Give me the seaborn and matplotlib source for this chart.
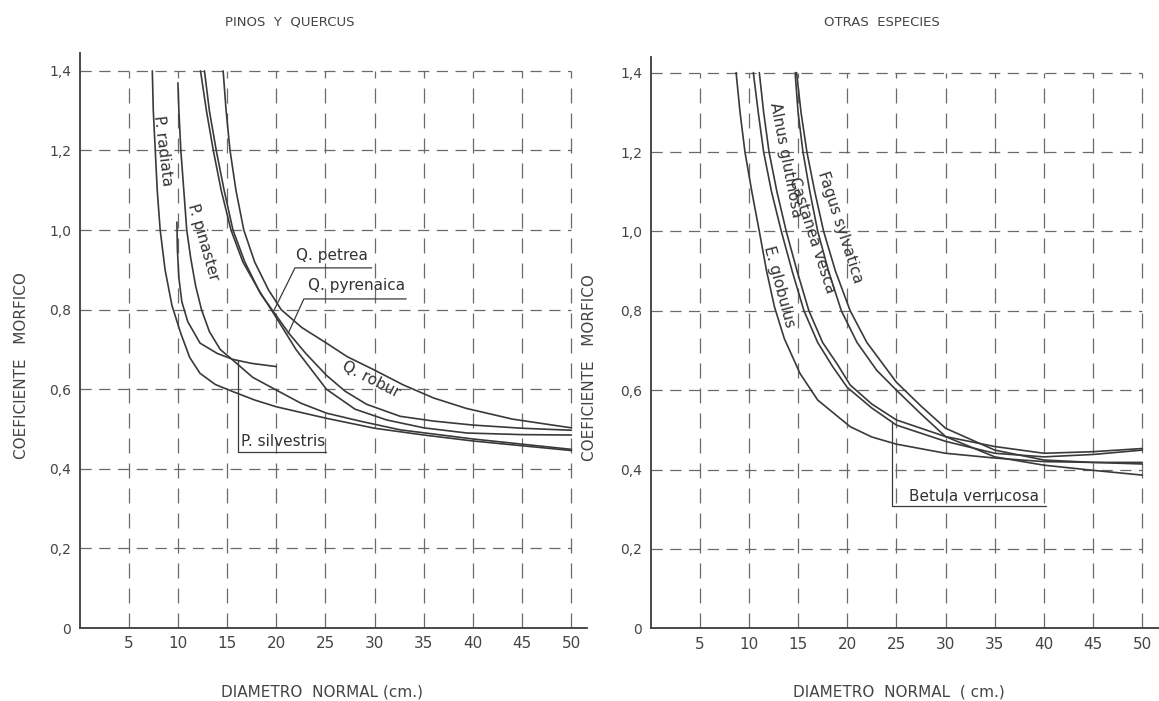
import matplotlib
matplotlib.use("Agg")
import matplotlib.pyplot as plt
import pandas as pd
import seaborn as sns

# ---- datos (diametro normal cm, coeficiente morfico) ----
# Pinos y Quercus
radiata_d = [7.4, 7.5, 7.7, 7.9, 8.2, 8.7, 9.4, 10.3, 11.2, 12.25, 13.8, 15.6, 17.8, 20.0, 25.1, 30.0, 35.0, 40.0, 45.0, 50.0]
radiata_v = [1.40, 1.30, 1.20, 1.10, 1.00, 0.90, 0.81, 0.74, 0.68, 0.64, 0.612, 0.594, 0.573, 0.556, 0.527, 0.502, 0.485, 0.47, 0.458, 0.446]
pinaster_d = [10.0, 10.1, 10.3, 10.6, 10.9, 11.3, 11.8, 12.4, 13.2, 14.3, 15.6, 17.6, 20.0, 22.5, 25.1, 28.5, 32.6, 40.0, 45.0, 50.0]
pinaster_v = [1.37, 1.30, 1.20, 1.10, 1.00, 0.93, 0.86, 0.80, 0.745, 0.70, 0.673, 0.63, 0.598, 0.565, 0.54, 0.52, 0.498, 0.475, 0.462, 0.449]
silvestris_d = [9.9, 9.95, 10.1, 10.4, 11.0, 12.25, 14.0, 15.6, 17.5, 20.0]
silvestris_v = [1.02, 0.95, 0.88, 0.82, 0.77, 0.716, 0.69, 0.675, 0.665, 0.657]
petrea_d = [12.3, 12.9, 13.6, 14.4, 15.4, 16.6, 18.2, 20.0, 22.0, 25.1, 28.0, 31.2, 35.0, 39.4, 45.0, 50.0]
petrea_v = [1.40, 1.30, 1.20, 1.10, 1.00, 0.92, 0.85, 0.78, 0.70, 0.60, 0.55, 0.523, 0.503, 0.49, 0.486, 0.485]
pyrenaica_d = [12.7, 13.2, 13.9, 14.7, 15.6, 16.8, 18.4, 20.0, 21.3, 23.0, 25.1, 27.0, 29.2, 32.6, 36.0, 40.0, 45.0, 50.0]
pyrenaica_v = [1.40, 1.30, 1.20, 1.10, 1.00, 0.92, 0.84, 0.785, 0.74, 0.69, 0.635, 0.595, 0.562, 0.532, 0.52, 0.51, 0.502, 0.497]
robur_d = [14.6, 14.9, 15.3, 15.9, 16.7, 17.8, 19.2, 20.5, 22.6, 25.1, 27.2, 30.0, 32.9, 36.0, 39.3, 44.0, 50.0]
robur_v = [1.40, 1.30, 1.20, 1.10, 1.00, 0.92, 0.85, 0.80, 0.755, 0.716, 0.682, 0.648, 0.611, 0.578, 0.552, 0.525, 0.503]

# Otras especies
globulus_d = [8.7, 9.1, 9.6, 10.3, 11.06, 11.8, 12.6, 13.6, 15.2, 17.0, 20.3, 22.5, 25.0, 30.0, 35.0, 40.0, 45.0, 50.0]
globulus_v = [1.40, 1.30, 1.20, 1.10, 1.00, 0.90, 0.81, 0.73, 0.642, 0.575, 0.508, 0.482, 0.464, 0.441, 0.429, 0.42, 0.418, 0.418]
betula_d = [10.45, 10.95, 11.5, 12.3, 13.3, 14.4, 15.6, 17.0, 18.5, 20.0, 22.5, 25.0, 30.0, 35.0, 40.0, 45.0, 50.0]
betula_v = [1.40, 1.30, 1.20, 1.10, 1.00, 0.90, 0.80, 0.72, 0.66, 0.607, 0.555, 0.512, 0.471, 0.441, 0.432, 0.438, 0.449]
alnus_d = [11.06, 11.5, 12.05, 12.85, 13.8, 14.9, 16.1, 17.5, 19.0, 20.3, 22.5, 25.0, 30.0, 35.0, 40.0, 45.0, 50.0]
alnus_v = [1.40, 1.30, 1.20, 1.10, 1.00, 0.90, 0.80, 0.72, 0.665, 0.613, 0.565, 0.525, 0.483, 0.458, 0.441, 0.445, 0.453]
castanea_d = [14.7, 15.0, 15.5, 16.2, 17.0, 18.1, 19.4, 21.0, 23.0, 25.0, 27.5, 30.0, 35.0, 40.0, 45.0, 50.0]
castanea_v = [1.40, 1.30, 1.20, 1.10, 1.00, 0.90, 0.80, 0.72, 0.65, 0.60, 0.54, 0.483, 0.432, 0.411, 0.398, 0.386]
fagus_d = [14.85, 15.3, 15.9, 16.7, 17.6, 18.8, 20.3, 22.0, 23.8, 25.0, 27.5, 30.0, 35.0, 40.0, 45.0, 50.0]
fagus_v = [1.40, 1.30, 1.20, 1.10, 1.00, 0.90, 0.80, 0.72, 0.66, 0.62, 0.56, 0.504, 0.449, 0.424, 0.418, 0.414]

x_ticks = [5, 10, 15, 20, 25, 30, 35, 40, 45, 50]
y_ticks = [0, 0.2, 0.4, 0.6, 0.8, 1.0, 1.2, 1.4]
y_labels = ["0", "0,2", "0,4", "0,6", "0,8", "1,0", "1,2", "1,4"]

INK = "#3a3a3a"
GRID = "#6a6a6a"
TXT = "#444444"


def tabla(series):
    filas = []
    for nombre, d, v in series:
        for i, (a, b) in enumerate(zip(d, v)):
            filas.append({"especie": nombre, "orden": i, "d": a, "v": b})
    return pd.DataFrame(filas)


def preparar_eje(ax, xmax, ymax, xlabel):
    ax.set_xlim(0, xmax)
    ax.set_ylim(0, ymax)
    for s in ["top", "right"]:
        ax.spines[s].set_visible(False)
    for s in ["left", "bottom"]:
        ax.spines[s].set_color(INK)
        ax.spines[s].set_linewidth(1.3)
    ax.hlines(y_ticks[1:], 0, 50, colors=GRID, linewidth=0.9, linestyles=(0, (9, 6)), zorder=1)
    ax.vlines(x_ticks, 0, 1.4, colors=GRID, linewidth=0.9, linestyles=(0, (12, 8)), zorder=1)
    ax.set_xticks(x_ticks)
    ax.set_xticklabels([str(t) for t in x_ticks])
    ax.set_yticks(y_ticks)
    ax.set_yticklabels(y_labels)
    ax.tick_params(length=0, labelcolor=TXT, pad=6)
    ax.tick_params(axis="x", labelsize=11)
    ax.tick_params(axis="y", labelsize=10)
    ax.set_xlabel(xlabel, fontsize=11, color=TXT)
    ax.set_ylabel("COEFICIENTE   MORFICO", fontsize=11, color=TXT)


def etiqueta(ax, x, y, texto, rot=0, size=11):
    ax.text(x, y, texto, rotation=rot, rotation_mode="anchor", ha="center", va="center",
            fontsize=size, color="#333333", zorder=4)


sns.set_style("white")
plt.rcParams['font.family'] = ['DejaVu Sans']

fig = plt.figure(figsize=(11.59, 7.01), dpi=100)
ax1 = fig.add_axes([0.0686, 0.1041, 0.4376, 0.8203])
ax2 = fig.add_axes([0.5613, 0.1037, 0.4387, 0.8153])

izq = tabla([("P. radiata", radiata_d, radiata_v), ("P. pinaster", pinaster_d, pinaster_v),
             ("P. silvestris", silvestris_d, silvestris_v), ("Q. petrea", petrea_d, petrea_v),
             ("Q. pyrenaica", pyrenaica_d, pyrenaica_v), ("Q. robur", robur_d, robur_v)])
der = tabla([("E. globulus", globulus_d, globulus_v), ("Betula verrucosa", betula_d, betula_v),
             ("Alnus glutinosa", alnus_d, alnus_v), ("Castanea vesca", castanea_d, castanea_v),
             ("Fagus sylvatica", fagus_d, fagus_v)])

preparar_eje(ax1, 51.55, 1.445, "DIAMETRO  NORMAL (cm.)")
preparar_eje(ax2, 51.7, 1.44, "DIAMETRO  NORMAL  ( cm.)")

sns.lineplot(data=izq, x="d", y="v", units="especie", estimator=None, sort=False,
             color=INK, linewidth=1.2, ax=ax1, zorder=3)
sns.lineplot(data=der, x="d", y="v", units="especie", estimator=None, sort=False,
             color=INK, linewidth=1.2, ax=ax2, zorder=3)

# posiciones de rotulos de ejes
ax1.xaxis.set_label_coords(0.478, -0.098)
ax2.xaxis.set_label_coords(0.489, -0.098)
ax1.yaxis.set_label_coords(-0.10, 0.457)
ax2.yaxis.set_label_coords(-0.105, 0.457)
fig.text(290 / 1159, 1 - 22 / 701, "PINOS  Y  QUERCUS", ha="center", va="center", fontsize=9.5, color=TXT)
fig.text(882 / 1159, 1 - 22 / 701, "OTRAS  ESPECIES", ha="center", va="center", fontsize=9.5, color=TXT)

# rotulos de curvas, panel izquierdo
etiqueta(ax1, 8.5, 1.20, "P. radiata", rot=-83)
etiqueta(ax1, 12.6, 0.97, "P. pinaster", rot=-74)
etiqueta(ax1, 29.6, 0.624, "Q. robur", rot=-27)
etiqueta(ax1, 25.7, 0.937, "Q. petrea")
etiqueta(ax1, 28.2, 0.86, "Q. pyrenaica")
etiqueta(ax1, 20.7, 0.468, "P. silvestris")
ax1.plot([19.8, 21.9, 29.7], [0.80, 0.905, 0.905], color=INK, lw=0.9)
ax1.plot([21.2, 22.8, 33.2], [0.74, 0.827, 0.827], color=INK, lw=0.9)
ax1.plot([16.1, 16.1, 25.1], [0.673, 0.442, 0.442], color=INK, lw=0.9)

# rotulos de curvas, panel derecho
etiqueta(ax2, 13.7, 1.18, "Alnus glutinosa", rot=-79)
etiqueta(ax2, 16.4, 0.99, "Castanea vesca", rot=-72)
etiqueta(ax2, 19.3, 1.01, "Fagus sylvatica", rot=-72)
etiqueta(ax2, 13.1, 0.86, "E. globulus", rot=-75)
etiqueta(ax2, 32.9, 0.333, "Betula verrucosa")
ax2.plot([24.6, 24.6, 40.2], [0.518, 0.309, 0.309], color=INK, lw=0.9)

fig.savefig("out.png", dpi=100)
